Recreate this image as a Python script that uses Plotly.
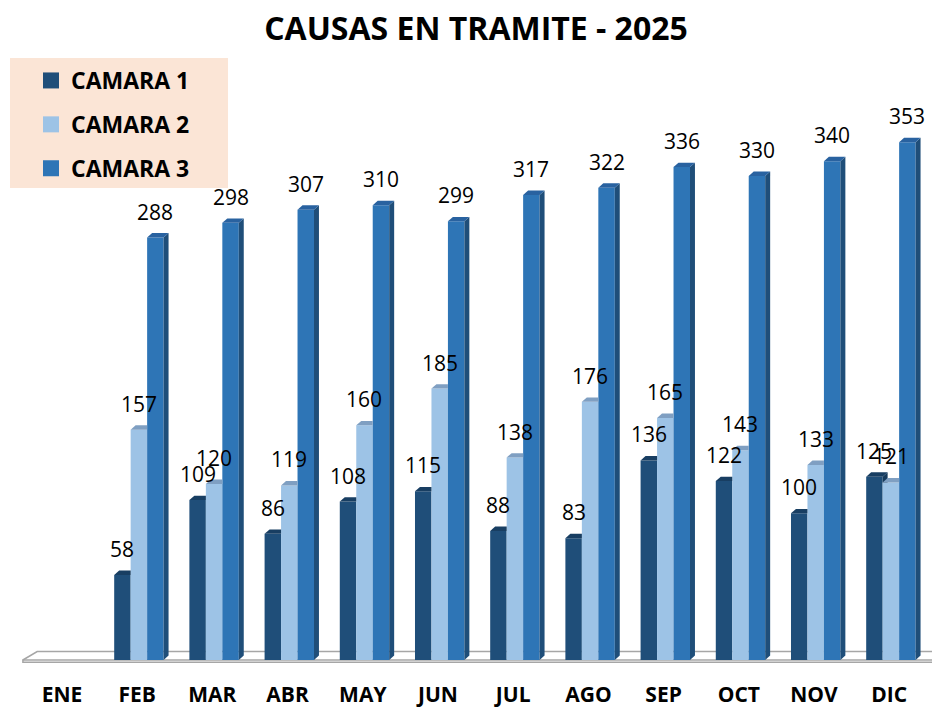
import plotly.graph_objects as go

months = ["ENE", "FEB", "MAR", "ABR", "MAY", "JUN", "JUL", "AGO", "SEP", "OCT", "NOV", "DIC"]
camara1 = [None, 58, 109, 86, 108, 115, 88, 83, 136, 122, 100, 125]
camara2 = [None, 157, 120, 119, 160, 185, 138, 176, 165, 143, 133, 121]
camara3 = [None, 288, 298, 307, 310, 299, 317, 322, 336, 330, 340, 353]
series_names = ["CAMARA 1", "CAMARA 2", "CAMARA 3"]

series = [camara1, camara2, camara3]
front_colors = ["#1F4E79", "#9DC3E6", "#2E75B6"]
top_colors = ["#183E62", "#7F9FC2", "#2962A0"]
side_colors = ["#163A5C", "#6F8FB2", "#1F4E79"]

FONT = "Open Sans, sans-serif"
W = 0.219          # bar width (category units)
OFF0 = -0.306      # left edge of first bar relative to category
DX = 0.066         # depth offset x
DY = 3.0           # depth offset y (value units)

# layout geometry (pixels)
ML, MR, MT, MB = 20, 0, 50, 40
PW = 932 - ML - MR
PH = 707 - MT - MB

idx = list(range(len(months)))
fig = go.Figure()

for s, (vals, name, col) in enumerate(zip(series, series_names, front_colors)):
    fig.add_trace(go.Bar(
        x=idx, y=vals, width=W, offset=OFF0 + s * W,
        marker=dict(color=col, line=dict(width=0)),
        name=name, showlegend=False, hoverinfo="y"))
    # legend proxy
    fig.add_trace(go.Scatter(
        x=[None], y=[None], mode="markers", name=f"<b>{name}</b>", legendgroup=name,
        marker=dict(symbol="square", size=16, color=col)))

shapes = []
# floor slab
xl, xr = -0.52, 12.2
shapes.append(dict(type="path", xref="x", yref="y", layer="below",
                   path=f"M{xl},0 L{xl+0.19},5.8 L{xr},5.8 L{xr},-1.5 L{xl},-1.5 Z",
                   fillcolor="#FFFFFF", line=dict(color="#A6A6A6", width=1.5)))
shapes.append(dict(type="line", xref="x", yref="y", layer="below",
                   x0=xl, x1=xr, y0=0, y1=0, line=dict(color="#A6A6A6", width=1.5)))

annotations = []
for i in idx:
    for s, vals in enumerate(series):
        v = vals[i]
        if v is None:
            continue
        x0 = i + OFF0 + s * W
        x1 = x0 + W
        n = series[s + 1][i] if s + 1 < len(series) else 0
        # side face
        if s == len(series) - 1:
            shapes.append(dict(type="path", xref="x", yref="y", layer="above",
                               path=f"M{x1},0 L{x1+DX},{DY} L{x1+DX},{v+DY} L{x1},{v} Z",
                               fillcolor=side_colors[s], line=dict(width=0)))
        elif n < v:
            shapes.append(dict(type="path", xref="x", yref="y", layer="above",
                               path=f"M{x1},{n} L{x1},{v} L{x1+DX},{v+DY} L{x1+DX},{n} Z",
                               fillcolor=side_colors[s], line=dict(width=0)))
        # top face
        xr_top = x1 + DX if n < v else x1
        shapes.append(dict(type="path", xref="x", yref="y", layer="above",
                           path=f"M{x0},{v} L{x0+DX},{v+DY} L{xr_top},{v+DY} L{x1},{v} Z",
                           fillcolor=top_colors[s], line=dict(width=0)))
        annotations.append(dict(x=(x0 + x1) / 2, y=v, xref="x", yref="y",
                                text=str(v), showarrow=False, yshift=26,
                                xanchor="center", yanchor="middle",
                                font=dict(family=FONT, size=21, color="#000000")))

# legend background box
shapes.append(dict(type="rect", xref="paper", yref="paper", layer="below",
                   x0=(10 - ML) / PW, x1=(228 - ML) / PW,
                   y0=(707 - MB - 188) / PH, y1=(707 - MB - 58) / PH,
                   fillcolor="#FBE5D6", line=dict(width=0)))

# axis ranges: y=0 at pixel 660, 1.467 px per unit
PX_PER_UNIT = 1.467
y_min = -((707 - MB) - 660) / PX_PER_UNIT
y_max = (660 - MT) / PX_PER_UNIT
x_min = (ML - 62) / 75.2
x_max = x_min + PW / 75.2

fig.update_layout(
    width=932, height=707,
    margin=dict(l=ML, r=MR, t=MT, b=MB, autoexpand=False),
    paper_bgcolor="#FFFFFF", plot_bgcolor="rgba(0,0,0,0)",
    barmode="overlay",
    title=dict(text="<b>CAUSAS EN TRAMITE - 2025</b>", x=476 / 932, xanchor="center",
               y=1 - 29 / 707, yanchor="middle",
               font=dict(family=FONT, size=32, color="#000000")),
    xaxis=dict(range=[x_min, x_max], tickvals=idx, ticktext=[f"<b>{m}</b>" for m in months],
               showgrid=False, zeroline=False, showline=False, ticks="", ticklen=0,
               tickfont=dict(family=FONT, size=21, color="#000000"),
               ticklabelstandoff=13),
    yaxis=dict(range=[y_min, y_max], visible=False, showgrid=False, zeroline=False),
    legend=dict(x=(31 - ML) / PW, y=(707 - MB - 59) / PH,
                xanchor="left", yanchor="top", bgcolor="rgba(0,0,0,0)",
                font=dict(family=FONT, size=23, color="#000000"),
                tracegroupgap=11, itemclick=False),
    shapes=shapes, annotations=annotations,
)

fig.write_html("out.html", config={"displayModeBar": False},
               post_script="document.body.style.margin='0';")
